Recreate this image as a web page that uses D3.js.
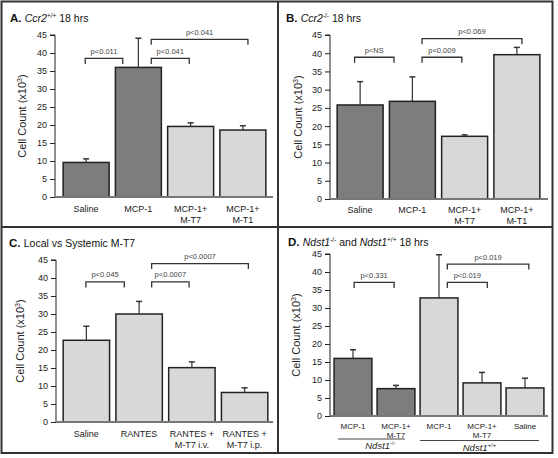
<!DOCTYPE html>
<html><head><meta charset="utf-8">
<script src="https://cdn.jsdelivr.net/npm/d3@7"></script>
<style>body{margin:0;background:#fff}svg{display:block;font-family:"Liberation Sans",Arial,sans-serif}</style>
</head><body><svg id="c" width="558" height="458"></svg>
<script>
// ---------- data ----------
const yTicks = [0,5,10,15,20,25,30,35,40,45];

const catsA = ["Saline","MCP-1","MCP-1+|M-T7","MCP-1+|M-T1"];
const valsA = [9.6, 36.0, 19.6, 18.6];
const semA  = [1.0, 8.1, 1.0, 1.2];
const groupA = [0, 0, 1, 1];
const pairsA = [["Saline","MCP-1",38.5,"p<0.011"],["MCP-1","MCP-1+|M-T7",38.5,"p<0.041"],["MCP-1","MCP-1+|M-T1",43.8,"p<0.041"]];

const catsB = ["Saline","MCP-1","MCP-1+|M-T7","MCP-1+|M-T1"];
const valsB = [25.8, 26.8, 17.2, 39.6];
const semB  = [6.4, 6.7, 0.4, 2.0];
const groupB = [0, 0, 1, 1];
const pairsB = [["Saline","MCP-1",38.9,"p<NS"],["MCP-1","MCP-1+|M-T7",38.9,"p<0.009"],["MCP-1","MCP-1+|M-T1",44.0,"p<0.069"]];

const catsC = ["Saline","RANTES","RANTES +|M-T7 i.v.","RANTES +|M-T7 i.p."];
const valsC = [22.7, 30.0, 15.1, 8.2];
const semC  = [3.9, 3.5, 1.6, 1.3];
const groupC = [1, 1, 1, 1];
const pairsC = [["Saline","RANTES",38.9,"p<0.045"],["RANTES","RANTES +|M-T7 i.v.",38.9,"p<0.0007"],["RANTES","RANTES +|M-T7 i.p.",44.0,"p<0.0007"]];

const catsD = ["MCP-1 ","MCP-1+|M-T7 ","MCP-1","MCP-1+|M-T7","Saline"];
const valsD = [16.0, 7.6, 32.8, 9.2, 7.8];
const semD  = [2.4, 0.9, 12.0, 2.9, 2.7];
const groupD = [0, 0, 1, 1, 1];
const pairsD = [["MCP-1 ","MCP-1+|M-T7 ",37.1,"p<0.331"],["MCP-1","MCP-1+|M-T7",37.1,"p<0.019"],["MCP-1","Saline",42.2,"p<0.019"]];
const strainsD = [["MCP-1 ","MCP-1+|M-T7 ","-/-"],["MCP-1","Saline","+/+"]];

// ---------- layout / style ----------
const fills = ["#7d7d7d", "#d8d8d8"];
const svg = d3.select("#c");

// figure frame
svg.append("rect").attr("x",1.5).attr("y",1.5).attr("width",551).attr("height",451.5)
  .attr("fill","none").attr("stroke","#333").attr("stroke-width",2);
svg.append("line").attr("x1",278).attr("x2",278).attr("y1",1).attr("y2",453).attr("stroke","#333").attr("stroke-width",2);
svg.append("line").attr("x1",1).attr("x2",552).attr("y1",227).attr("y2",227).attr("stroke","#333").attr("stroke-width",2);

const panels = [
  {cats:catsA, vals:valsA, sem:semA, grp:groupA, pairs:pairsA, axisX:55, y0:197, y45:35, xr:[60,269], xEnd:273,
   fr:[[0.48,0.16],[0.78,0.47],[0.78,0.61]], labX:26, catFs:9, catDy:14.5, lineH:11, pFs:7.5},
  {cats:catsB, vals:valsB, sem:semB, grp:groupB, pairs:pairsB, axisX:330, y0:199, y45:35, xr:[334,543], xEnd:548,
   fr:[[0.38,0.10],[0.71,0.44],[0.71,0.61]], labX:302, catFs:9, catDy:13.5, lineH:11, pFs:7.5},
  {cats:catsC, vals:valsC, sem:semC, grp:groupC, pairs:pairsC, axisX:56, y0:422, y45:260, xr:[60,271], xEnd:273,
   fr:[[0.49,0.18],[0.77,0.44],[0.77,0.58]], labX:24, catFs:9, catDy:14.5, lineH:11, pFs:7.5},
  {cats:catsD, vals:valsD, sem:semD, grp:groupD, pairs:pairsD, axisX:330, y0:416, y45:254, xr:[331.5,546.5], xEnd:548,
   fr:[[0.53,0.45],[0.72,0.64],[0.72,0.60]], labX:300, catFs:8, catDy:13, lineH:8.5, pFs:7.5}
];

panels.forEach((p, pi) => {
  const g = svg.append("g");
  const y = d3.scaleLinear().domain([0,45]).range([p.y0, p.y45]);
  const x = d3.scaleBand().domain(p.cats).range(p.xr).paddingInner(0.12).paddingOuter(0.06);
  const bw = x.bandwidth();

  // y axis
  const ax = g.append("g").attr("transform",`translate(${p.axisX},0)`)
    .call(d3.axisLeft(y).tickValues(yTicks).tickSize(5).tickPadding(3));
  ax.select(".domain").attr("stroke","#222").attr("stroke-width",1).attr("d",`M-5,${y(45)}H0V${y(0)}`);
  ax.selectAll(".tick line").attr("stroke","#222");
  ax.selectAll(".tick text").attr("font-size",9).attr("fill","#222").attr("font-family","Liberation Sans, Arial, sans-serif");

  // bars
  const data = p.cats.map((c,i)=>({c, v:p.vals[i], s:p.sem[i], g:p.grp[i]}));
  // error bars (behind? draw after bars)
  g.selectAll("rect.bar").data(data).enter().append("rect")
    .attr("x",d=>x(d.c)).attr("width",bw)
    .attr("y",d=>y(d.v)).attr("height",d=>y(0)-y(d.v))
    .attr("fill",d=>fills[d.g]).attr("stroke","#222").attr("stroke-width",1.5);
  data.forEach(d=>{
    const cx = x(d.c)+bw/2;
    g.append("line").attr("x1",cx).attr("x2",cx).attr("y1",y(d.v)).attr("y2",y(d.v+d.s)).attr("stroke","#333").attr("stroke-width",1.2);
    g.append("line").attr("x1",cx-3).attr("x2",cx+3).attr("y1",y(d.v+d.s)).attr("y2",y(d.v+d.s)).attr("stroke","#333").attr("stroke-width",1.5);
  });

  // x baseline
  g.append("line").attr("x1",p.axisX).attr("x2",p.xEnd).attr("y1",y(0)).attr("y2",y(0))
    .attr("stroke","#777").attr("stroke-width",2);

  // category labels
  data.forEach(d=>{
    const lines = d.c.trim().split("|");
    const t = g.append("text").attr("text-anchor","middle").attr("font-size",p.catFs).attr("fill","#222");
    lines.forEach((ln,k)=>{
      t.append("tspan").attr("x",x(d.c)+bw/2).attr("y",y(0)+p.catDy+k*p.lineH).text(ln);
    });
  });

  // significance brackets
  p.pairs.forEach((pr,k)=>{
    const x1 = x(pr[0]) + bw*p.fr[k][0];
    const x2 = x(pr[1]) + bw*p.fr[k][1];
    const yt = y(pr[2]);
    g.append("path").attr("d",`M${x1},${yt+5.5}V${yt}H${x2}V${yt+5.5}`)
      .attr("fill","none").attr("stroke","#333").attr("stroke-width",1.3);
    g.append("text").attr("x",(x1+x2)/2).attr("y",yt-4.5).attr("text-anchor","middle")
      .attr("font-size",p.pFs).attr("fill","#444").text(pr[3]);
  });

  // y-axis title
  const yl = g.append("text").attr("transform",`translate(${p.labX},${(y(0)+y(45))/2}) rotate(-90)`)
    .attr("text-anchor","middle").attr("font-size",11).attr("fill","#222");
  yl.append("tspan").text("Cell Count (x10");
  yl.append("tspan").attr("font-size",7).attr("dy",-4).text("3");
  yl.append("tspan").attr("dy",4).text(")");

  // D strain groups
  if (pi===3) {
    strainsD.forEach((s,k)=>{
      const a = x(s[0]) + (k===0?4:0), b = x(s[1]) + bw - (k===0?10:5);
      const ly = y(0) + 23 + k*1.5;
      g.append("line").attr("x1",a).attr("x2",b).attr("y1",ly).attr("y2",ly).attr("stroke","#444").attr("stroke-width",1);
      const t = g.append("text").attr("x",(a+b)/2 + (k===0?9:0)).attr("y",ly+10).attr("text-anchor","middle")
        .attr("font-size",9.5).attr("fill","#222").attr("font-style","italic");
      t.append("tspan").text("Ndst1");
      t.append("tspan").attr("font-size",6).attr("dy",-4).attr("font-style","normal").text(s[2]);
    });
  }
});

// panel titles
function title(xp, yp, letter, parts){
  const t = svg.append("text").attr("x",xp).attr("y",yp).attr("font-size",10.5).attr("fill","#111");
  t.append("tspan").attr("font-weight","bold").attr("font-size",11.5).text(letter+" ");
  parts.forEach(pt=>{
    const s = t.append("tspan").text(pt.t);
    if (pt.i) s.attr("font-style","italic");
    if (pt.sup) s.attr("font-size",6.5).attr("dy",-4);
    if (pt.after) s.attr("dy",4);
  });
}
title(10, 21.5, "A.", [{t:"Ccr2",i:1},{t:"+/+",sup:1},{t:" 18 hrs",after:1}]);
title(286, 21.5, "B.", [{t:"Ccr2",i:1},{t:"-/-",sup:1},{t:" 18 hrs",after:1}]);
title(9, 246.5, "C.", [{t:"Local vs Systemic M-T7"}]);
title(288, 245.5, "D.", [{t:"Ndst1",i:1},{t:"-/-",sup:1},{t:" and ",after:1},{t:"Ndst1",i:1},{t:"+/+",sup:1},{t:" 18 hrs",after:1}]);
</script>
</body></html>
